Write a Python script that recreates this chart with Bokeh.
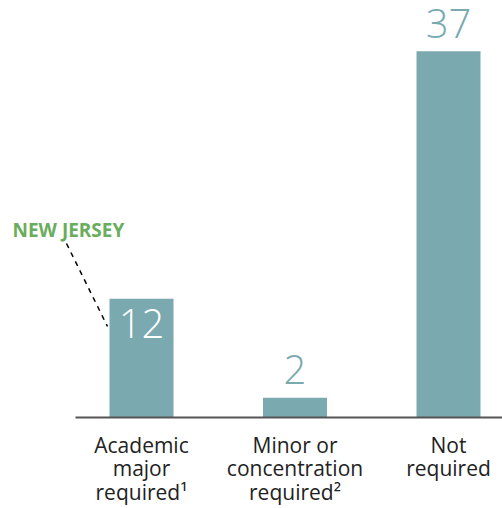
from bokeh.plotting import figure
from bokeh.models import Range1d, ColumnDataSource
from bokeh.core.properties import value
from bokeh.embed import file_html
from bokeh.resources import INLINE

# ---- data ----
categories = ["Academic\nmajor\nrequired\u00b9",
              "Minor or\nconcentration\nrequired\u00b2",
              "Not\nrequired"]
counts = [12, 2, 37]
label_inside = [True, False, False]
callout_text = "NEW JERSEY"

# ---- layout / styles ----
W, H = 502, 508
PX_PER_CAT = 153.5
FIRST_CENTER = 141.0          # canvas px of first bar centre
PX_PER_UNIT = 9.9
BASE = 417.0                  # canvas px of baseline
BAR_PX = 64

TEAL = "#7aa9af"
GREEN = "#6aad5c"
DARK = "#222222"

x_start = -FIRST_CENTER / PX_PER_CAT
x_end = x_start + W / PX_PER_CAT
y_start = -(H - BASE) / PX_PER_UNIT
y_end = y_start + H / PX_PER_UNIT

def dx(canvas_px):
    return x_start + canvas_px / PX_PER_CAT

def dy(canvas_px):
    return y_end - canvas_px / PX_PER_UNIT

p = figure(width=W, height=H, output_backend="svg", toolbar_location=None,
           x_range=Range1d(x_start, x_end), y_range=Range1d(y_start, y_end),
           min_border=0, outline_line_color=None)
p.axis.visible = False
p.grid.visible = False
p.background_fill_color = "white"
p.border_fill_color = "white"

xs = list(range(len(categories)))

# bars
p.vbar(x=xs, top=counts, bottom=0, width=BAR_PX / PX_PER_CAT,
       fill_color=TEAL, line_color=None)

# baseline
p.segment(x0=[dx(75)], x1=[dx(W)], y0=[0], y1=[0], line_color="#555555", line_width=2)

# value labels
src = ColumnDataSource(dict(
    x=xs, y=counts, text=[str(c) for c in counts],
    color=["white" if i else TEAL for i in label_inside],
    yoff=[25 if i else -28 for i in label_inside],
))
p.text(x="x", y="y", text="text", source=src, text_color="color",
       y_offset="yoff", text_align="center", text_baseline="middle",
       text_font=value("Open Sans Light, Open Sans"), text_font_size="40px")

# category labels, one glyph per line
lx, ly, lt, lo = [], [], [], []
for i, cat in enumerate(categories):
    for j, line in enumerate(cat.split("\n")):
        lx.append(i); ly.append(0); lt.append(line); lo.append(27 + 23.5 * j)
p.text(x=lx, y=ly, text=lt, y_offset=lo, text_align="center",
       text_baseline="middle", text_color=DARK,
       text_font=value("Open Sans"), text_font_size="21px")

# callout
p.text(x=[dx(12)], y=[dy(229)], text=[callout_text], text_color=GREEN,
       text_font=value("Open Sans"), text_font_style="bold",
       text_font_size="19px", text_baseline="middle", text_align="left")
p.segment(x0=[dx(66)], y0=[dy(243)], x1=[dx(107)], y1=[dy(326)],
          line_color="black", line_width=1.5, line_dash="5 5")

open("out.html", "w").write(file_html(p, INLINE))
